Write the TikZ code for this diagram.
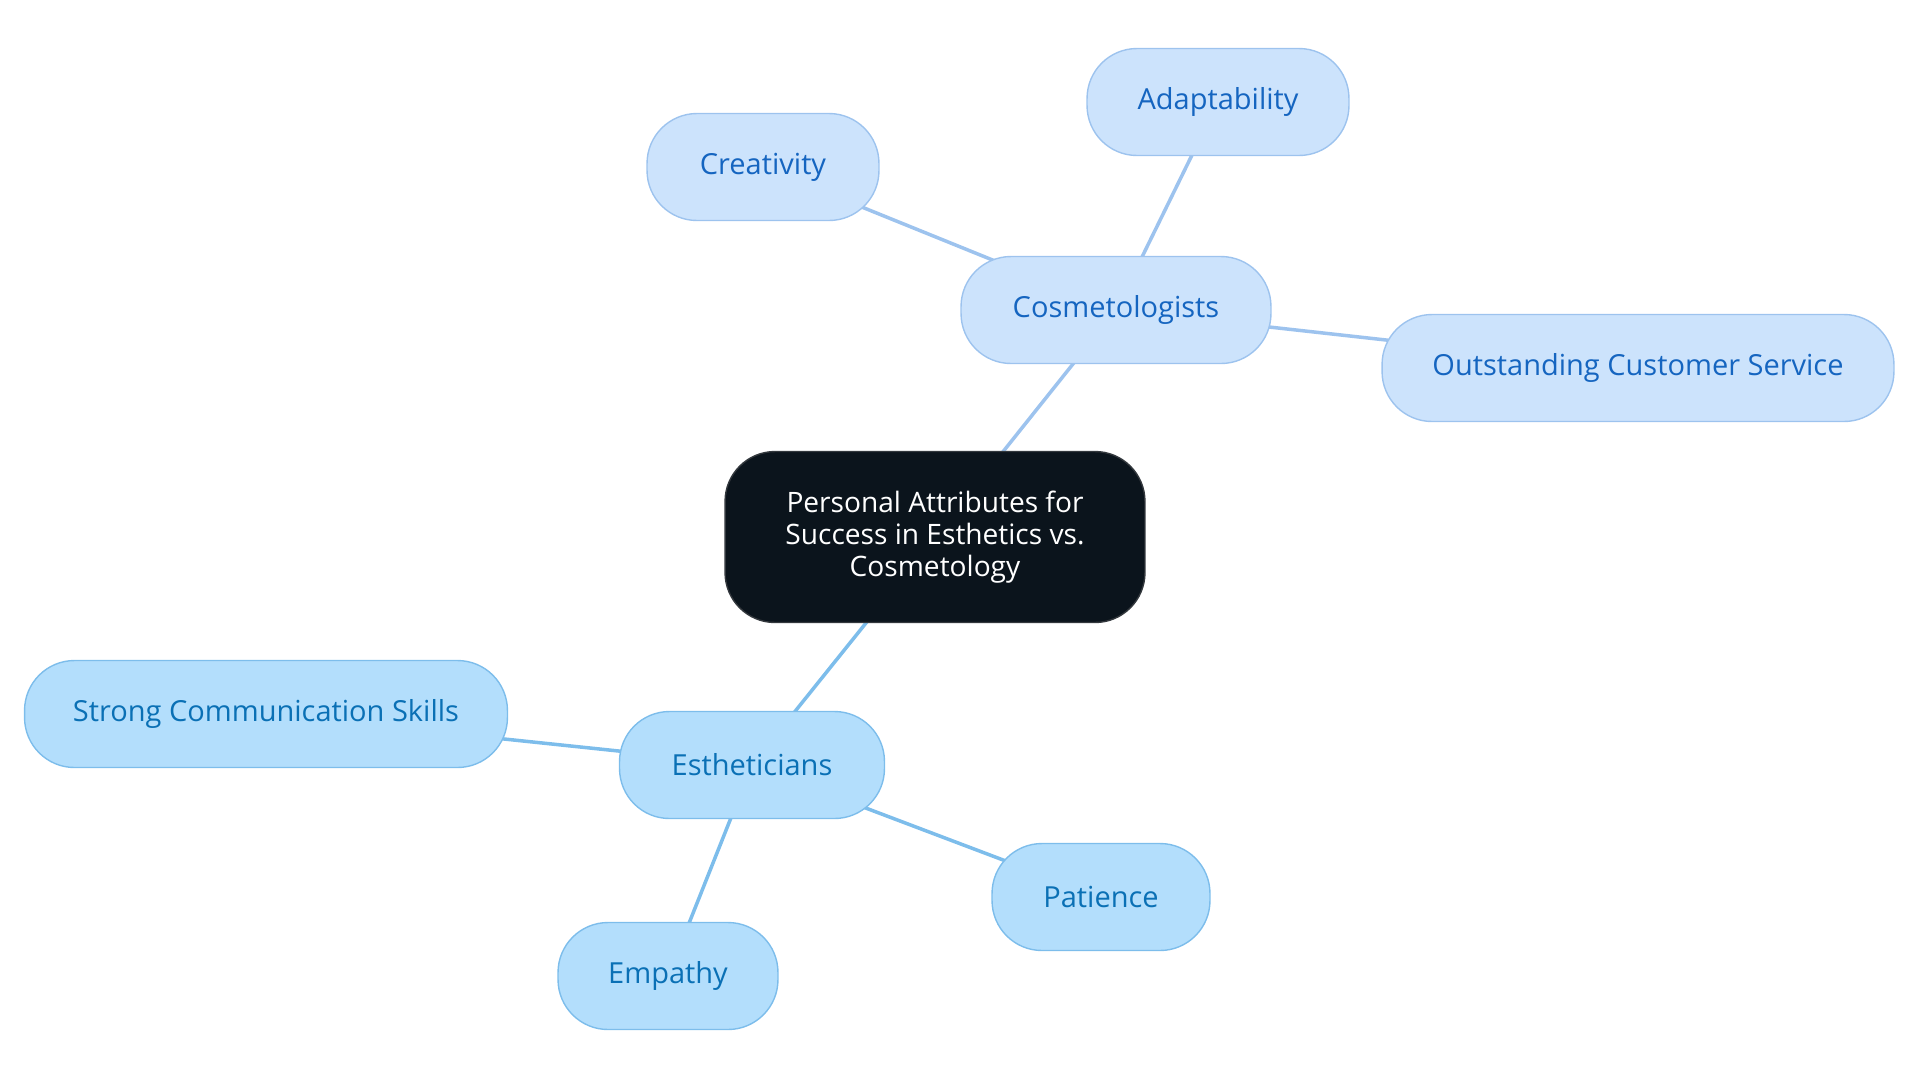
\documentclass[tikz,border=0pt]{standalone}
\usepackage{fontspec}
\setmainfont{Open Sans}
\usepackage{xcolor}
\definecolor{mmdark}{HTML}{0B141C}
\definecolor{mmdarkline}{HTML}{33383D}
\definecolor{mmcosfill}{HTML}{CCE3FC}
\definecolor{mmcosline}{HTML}{9DC3EE}
\definecolor{mmcostext}{HTML}{1565C0}
\definecolor{mmestfill}{HTML}{B3DEFC}
\definecolor{mmestline}{HTML}{7DBDEB}
\definecolor{mmesttext}{HTML}{0A70B5}
\usetikzlibrary{positioning}

\begin{document}
\begin{tikzpicture}[x=0.02cm, y=-0.02cm,
    rootbox/.style={rectangle, rounded corners=1cm, draw=mmdarkline, fill=mmdark,
                    line width=0.8pt, minimum width=8.4cm, minimum height=3.42cm,
                    align=center, text=white, font=\fontsize{16}{18.2}\selectfont},
    cosbox/.style={rectangle, rounded corners=1cm, draw=mmcosline, fill=mmcosfill,
                   line width=0.8pt, minimum height=2.14cm, text=mmcostext,
                   font=\fontsize{16.5}{20}\selectfont},
    estbox/.style={rectangle, rounded corners=1cm, draw=mmestline, fill=mmestfill,
                   line width=0.8pt, minimum height=2.14cm, text=mmesttext,
                   font=\fontsize{16.5}{20}\selectfont},
    coslink/.style={line width=2pt, mmcosline},
    estlink/.style={line width=2pt, mmestline}
  ]
    \useasboundingbox (0,0) rectangle (1920,1083);

    % Links (drawn first, under the boxes)
    \coordinate (rootc) at (935,537);
    \coordinate (cosc) at (1116,310);
    \coordinate (estc) at (752,765);
    \draw[coslink] (rootc) -- (cosc);
    \draw[coslink] (cosc) -- (763,167) coordinate (crec);
    \draw[coslink] (cosc) -- (1218,102) coordinate (adac);
    \draw[coslink] (cosc) -- (1638,368) coordinate (outc);
    \draw[estlink] (rootc) -- (estc);
    \draw[estlink] (estc) -- (266,714) coordinate (strc);
    \draw[estlink] (estc) -- (1101,897) coordinate (patc);
    \draw[estlink] (estc) -- (668,976) coordinate (empc);

    % Root
    \node[rootbox] (root) at (rootc) {Personal Attributes for\\Success in Esthetics vs.\\Cosmetology};

    % Branch 1: Cosmetologists
    \node[cosbox, minimum width=6.2cm]   (cos) at (cosc) {Cosmetologists};
    \node[cosbox, minimum width=4.64cm]  (cre) at (crec) {Creativity};
    \node[cosbox, minimum width=5.24cm]  (ada) at (adac) {Adaptability};
    \node[cosbox, minimum width=10.24cm] (out) at (outc) {Outstanding Customer Service};

    % Branch 2: Estheticians
    \node[estbox, minimum width=5.3cm]   (est) at (estc) {Estheticians};
    \node[estbox, minimum width=9.66cm]  (str) at (strc) {Strong Communication Skills};
    \node[estbox, minimum width=4.36cm]  (pat) at (patc) {Patience};
    \node[estbox, minimum width=4.4cm]   (emp) at (empc) {Empathy};
  \end{tikzpicture}
\end{document}
